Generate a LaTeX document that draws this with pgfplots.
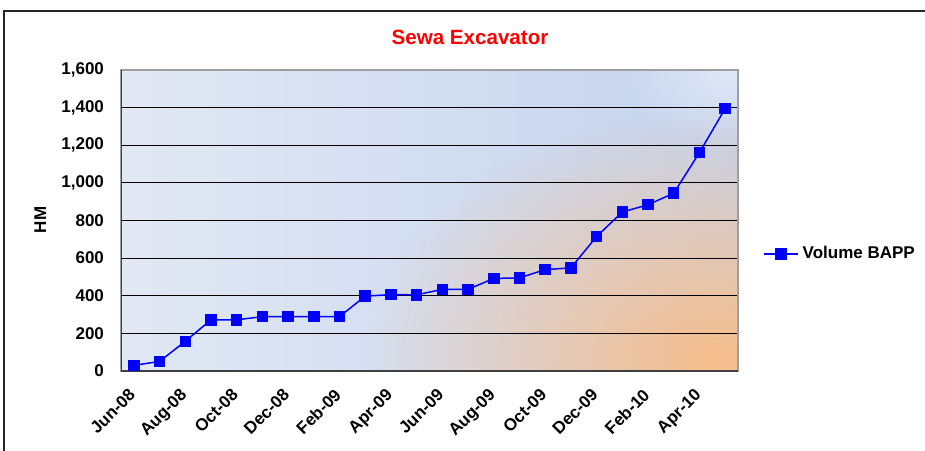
\documentclass[border=0pt]{standalone}
\usepackage{fontspec}
\setmainfont{Liberation Sans}
\usepackage{pgfplots}
\pgfplotsset{compat=1.18}
\usetikzlibrary{fadings}
\tikzfading[name=blob, inner color=transparent!0, outer color=transparent!100]
\definecolor{bgleft}{RGB}{226,232,244}
\definecolor{bgright}{RGB}{196,211,238}
\definecolor{bgorange}{RGB}{247,190,140}
\definecolor{serblue}{RGB}{0,0,255}
\begin{document}
\begin{tikzpicture}[x=1pt,y=1pt]
\useasboundingbox (0,0) rectangle (462.5,225);
\draw[line width=1pt, black!85] (2.2,-20) rectangle (480,219.6);
\node[text=red, font=\fontsize{10.3}{12}\selectfont\bfseries] at (235,206.5) {Sewa Excavator};
\begin{scope}
\clip (60.5,39.5) rectangle (369,190);
\shade[left color=bgleft, right color=bgright] (60.5,39.5) rectangle (369,190);
\fill[white, opacity=0.5, path fading=blob] (369,190) ellipse[x radius=60, y radius=40];
\fill[bgorange, path fading=blob] (357,45) ellipse[x radius=175, y radius=125];
\end{scope}
\begin{axis}[
  scale only axis,
  width=308.5pt, height=150.5pt,
  at={(60.5pt,39.5pt)}, anchor=south west,
  xmin=-0.5, xmax=23.5,
  ymin=0, ymax=1600,
  ytick={0,200,...,1600},
  xtick={0,2,...,22},
  xticklabels={Jun-08,Aug-08,Oct-08,Dec-08,Feb-09,Apr-09,Jun-09,Aug-09,Oct-09,Dec-09,Feb-10,Apr-10},
  major tick length=0pt,
  ymajorgrids,
  grid style={black, line width=0.5pt},
  axis line style={gray!75, line width=0.7pt},
  tick label style={font=\fontsize{8.5}{10}\selectfont\bfseries},
  xticklabel style={rotate=45, anchor=north east, inner sep=1pt, xshift=-6.9pt, yshift=-2.6pt},
  yticklabel style={xshift=-5pt},
  ylabel={HM},
  ylabel style={at={(axis description cs:-0.131,0.502)}, anchor=center, font=\fontsize{8.5}{10}\selectfont\bfseries},
  legend style={at={(axis description cs:1.04,0.389)}, anchor=west, draw=none, fill=none, inner sep=0pt,
    font=\fontsize{8.5}{10}\selectfont\bfseries},
  legend cell align=left,
  /pgf/number format/1000 sep={,},
  /pgf/number format/assume math mode=true,
]
\draw[black!75, line width=1pt] (rel axis cs:0,1) -- (rel axis cs:0,0) -- (rel axis cs:1,0);
\addplot[serblue, line width=0.75pt, mark=square*, mark size=2.5pt, mark options={solid, fill=serblue}]
coordinates {
(0,30) (1,51) (2,158) (3,272) (4,272) (5,289) (6,289) (7,289) (8,289)
(9,398) (10,406) (11,405) (12,434) (13,434) (14,492) (15,495) (16,539)
(17,548) (18,715) (19,845) (20,884) (21,945) (22,1161) (23,1395)
};
\addlegendentry{Volume BAPP}
\end{axis}
\end{tikzpicture}
\end{document}
